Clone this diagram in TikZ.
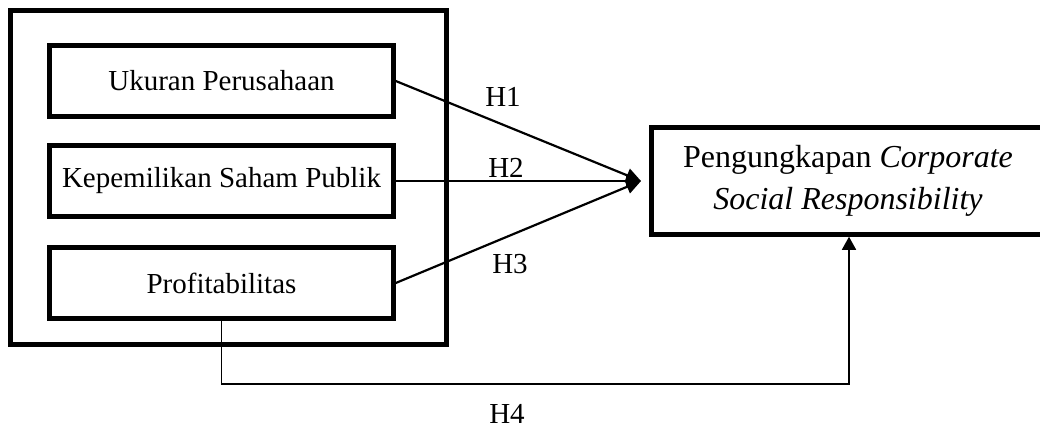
\documentclass[tikz,border=0pt]{standalone}
\usepackage{fontspec}
\setmainfont{Liberation Serif}
\usetikzlibrary{arrows.meta}
\begin{document}
\begin{tikzpicture}[x=1pt,y=-1pt,
  varbox/.style={draw,line width=4.5pt,minimum width=344pt,minimum height=71pt,inner sep=0pt,font=\fontsize{29}{34}\selectfont},
  outerbox/.style={draw,line width=5pt,minimum width=436pt,minimum height=333pt,inner sep=0pt},
  depbox/.style={draw,line width=4.5pt,minimum width=393pt,minimum height=107pt,inner sep=0pt,align=center,font=\fontsize{32}{42}\selectfont},
  hlabel/.style={font=\fontsize{29}{34}\selectfont,inner sep=0pt},
  link/.style={line width=2.2pt,-{Triangle[length=15pt,width=14pt]}},
  thin link/.style={line width=1.6pt}]
\useasboundingbox (0,0) rectangle (1040,428);
\node[outerbox] (outer) at (228,177.5) {};
\node[varbox] (u) at (221.5,81) {Ukuran Perusahaan};
\node[varbox] (k) at (221.5,181) {Kepemilikan Saham Publik};
\node[varbox] (p) at (221.5,283) {Profitabilitas};
\node[depbox] (c) at (848,181) {Pengungkapan \textit{Corporate}\\\textit{Social Responsibility}};
\coordinate (tip) at (641,181);
\coordinate (h4) at (849,384);
\draw[link] (u.east) -- (tip);
\draw[link,line width=1.6pt] (k.east) -- (tip);
\draw[link] (p.east) -- (tip);
\draw[thin link,-{Triangle[length=13pt,width=14pt]}] (p.south) |- (h4) -- (c.south -| h4);
\node[hlabel] (l1) at (503,97) {H1};
\node[hlabel] (l2) at (506,168) {H2};
\node[hlabel] (l3) at (510,264) {H3};
\node[hlabel] (l4) at (507,414) {H4};
\end{tikzpicture}
\end{document}
